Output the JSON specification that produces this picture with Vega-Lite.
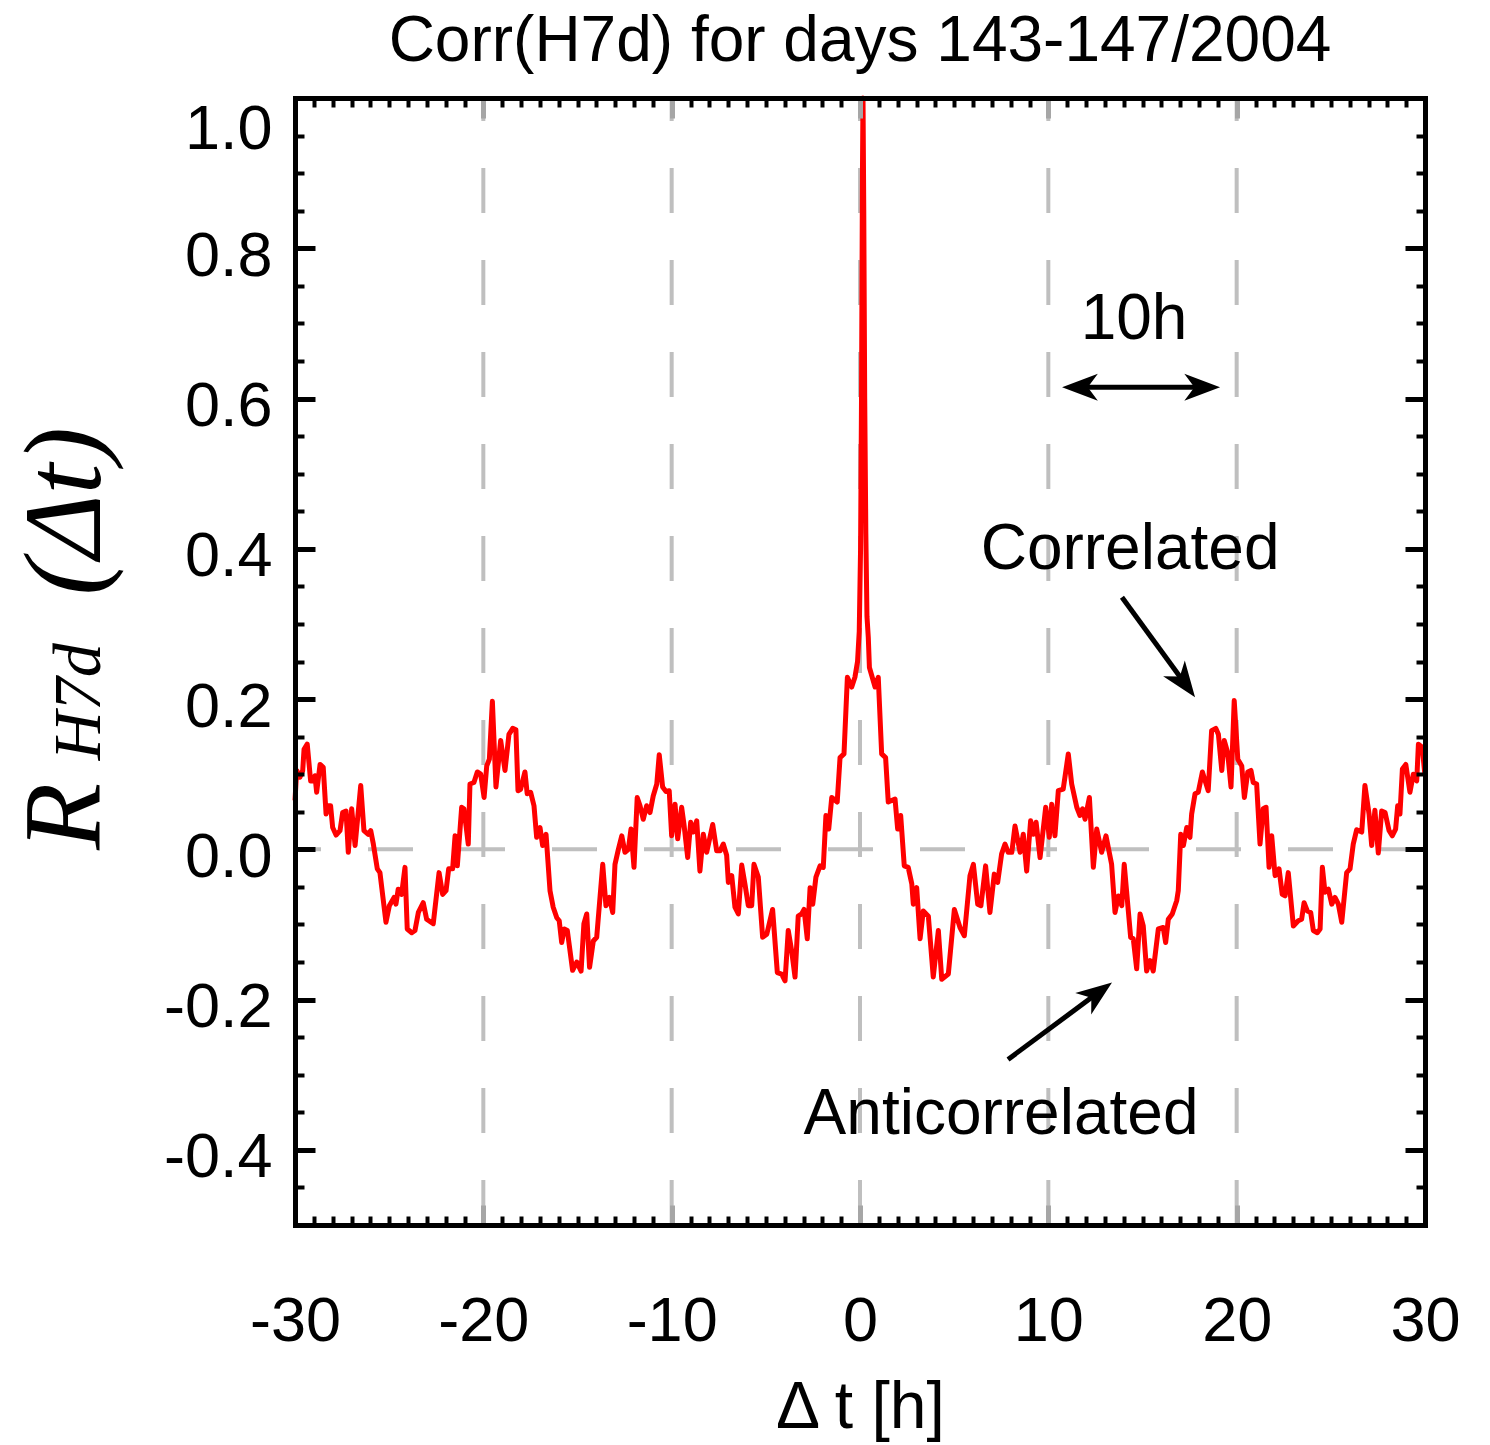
{
"$schema": "https://vega.github.io/schema/vega-lite/v6.json",
"width": 1130, "height": 1127,
"autosize": {"type": "none"},
"padding": {"left": 295, "top": 98, "right": 65, "bottom": 220},
"background": "white",
"config": {"view": {"stroke": null}},
"title": {"text": "Corr(H7d) for days 143-147/2004", "font": "Liberation Sans", "fontSize": 64, "fontWeight": "normal", "color": "black", "anchor": "middle", "offset": 22},
"datasets": {
"curve": [
{"t":-30.0,"r":0.065},{"t":-29.91,"r":0.105},{"t":-29.74,"r":0.096},{"t":-29.59,"r":0.105},{"t":-29.52,"r":0.133},{"t":-29.35,"r":0.140},{"t":-29.17,"r":0.091},{"t":-29.03,"r":0.091},{"t":-28.94,"r":0.098},{"t":-28.85,"r":0.076},{"t":-28.67,"r":0.113},{"t":-28.50,"r":0.109},{"t":-28.35,"r":0.047},{"t":-28.23,"r":0.058},{"t":-28.11,"r":0.058},{"t":-28.00,"r":0.029},{"t":-27.82,"r":0.019},{"t":-27.61,"r":0.025},{"t":-27.47,"r":0.049},{"t":-27.29,"r":0.051},{"t":-27.17,"r":-0.004},{"t":-26.99,"r":0.054},{"t":-26.81,"r":0.005},{"t":-26.51,"r":0.085},{"t":-26.34,"r":0.025},{"t":-26.11,"r":0.020},{"t":-25.98,"r":0.025},{"t":-25.84,"r":0.007},{"t":-25.63,"r":-0.026},{"t":-25.49,"r":-0.031},{"t":-25.17,"r":-0.097},{"t":-24.99,"r":-0.075},{"t":-24.74,"r":-0.064},{"t":-24.64,"r":-0.073},{"t":-24.52,"r":-0.053},{"t":-24.34,"r":-0.060},{"t":-24.16,"r":-0.024},{"t":-24.04,"r":-0.106},{"t":-23.80,"r":-0.111},{"t":-23.63,"r":-0.108},{"t":-23.45,"r":-0.084},{"t":-23.19,"r":-0.071},{"t":-23.01,"r":-0.093},{"t":-22.66,"r":-0.099},{"t":-22.35,"r":-0.031},{"t":-22.16,"r":-0.060},{"t":-21.98,"r":-0.055},{"t":-21.84,"r":-0.026},{"t":-21.63,"r":-0.026},{"t":-21.50,"r":0.018},{"t":-21.38,"r":-0.022},{"t":-21.15,"r":0.056},{"t":-21.03,"r":0.054},{"t":-20.80,"r":0.007},{"t":-20.71,"r":0.087},{"t":-20.50,"r":0.089},{"t":-20.32,"r":0.103},{"t":-20.14,"r":0.100},{"t":-19.96,"r":0.069},{"t":-19.82,"r":0.111},{"t":-19.68,"r":0.120},{"t":-19.52,"r":0.197},{"t":-19.33,"r":0.083},{"t":-19.08,"r":0.145},{"t":-18.85,"r":0.105},{"t":-18.64,"r":0.153},{"t":-18.44,"r":0.161},{"t":-18.27,"r":0.159},{"t":-18.16,"r":0.078},{"t":-18.02,"r":0.080},{"t":-17.79,"r":0.103},{"t":-17.67,"r":0.074},{"t":-17.49,"r":0.076},{"t":-17.31,"r":0.058},{"t":-17.17,"r":0.016},{"t":-16.99,"r":0.029},{"t":-16.85,"r":0.005},{"t":-16.67,"r":0.020},{"t":-16.46,"r":-0.055},{"t":-16.29,"r":-0.077},{"t":-16.10,"r":-0.091},{"t":-15.97,"r":-0.095},{"t":-15.84,"r":-0.124},{"t":-15.70,"r":-0.106},{"t":-15.54,"r":-0.108},{"t":-15.26,"r":-0.161},{"t":-15.04,"r":-0.150},{"t":-14.81,"r":-0.162},{"t":-14.66,"r":-0.099},{"t":-14.51,"r":-0.086},{"t":-14.36,"r":-0.157},{"t":-14.16,"r":-0.122},{"t":-13.98,"r":-0.117},{"t":-13.66,"r":-0.020},{"t":-13.49,"r":-0.075},{"t":-13.31,"r":-0.064},{"t":-13.13,"r":-0.084},{"t":-13.01,"r":-0.020},{"t":-12.83,"r":0.000},{"t":-12.65,"r":0.018},{"t":-12.48,"r":-0.004},{"t":-12.30,"r":0.000},{"t":-12.16,"r":0.027},{"t":-12.00,"r":-0.024},{"t":-11.83,"r":0.069},{"t":-11.68,"r":0.058},{"t":-11.51,"r":0.040},{"t":-11.33,"r":0.058},{"t":-11.15,"r":0.049},{"t":-10.98,"r":0.071},{"t":-10.79,"r":0.087},{"t":-10.66,"r":0.126},{"t":-10.48,"r":0.083},{"t":-10.30,"r":0.077},{"t":-10.13,"r":0.078},{"t":-10.00,"r":0.018},{"t":-9.82,"r":0.060},{"t":-9.68,"r":0.014},{"t":-9.47,"r":0.056},{"t":-9.35,"r":0.034},{"t":-9.15,"r":-0.011},{"t":-8.99,"r":0.036},{"t":-8.85,"r":0.023},{"t":-8.67,"r":0.038},{"t":-8.50,"r":-0.029},{"t":-8.32,"r":0.020},{"t":-8.14,"r":-0.004},{"t":-7.82,"r":0.033},{"t":-7.61,"r":-0.002},{"t":-7.43,"r":-0.002},{"t":-7.26,"r":0.007},{"t":-7.08,"r":-0.008},{"t":-6.99,"r":-0.044},{"t":-6.81,"r":-0.035},{"t":-6.64,"r":-0.077},{"t":-6.46,"r":-0.086},{"t":-6.28,"r":-0.021},{"t":-6.11,"r":-0.046},{"t":-5.93,"r":-0.075},{"t":-5.75,"r":-0.075},{"t":-5.63,"r":-0.020},{"t":-5.40,"r":-0.037},{"t":-5.17,"r":-0.117},{"t":-4.95,"r":-0.113},{"t":-4.64,"r":-0.080},{"t":-4.39,"r":-0.164},{"t":-4.16,"r":-0.166},{"t":-3.98,"r":-0.175},{"t":-3.81,"r":-0.108},{"t":-3.63,"r":-0.135},{"t":-3.45,"r":-0.170},{"t":-3.28,"r":-0.089},{"t":-3.10,"r":-0.086},{"t":-2.97,"r":-0.080},{"t":-2.80,"r":-0.119},{"t":-2.65,"r":-0.051},{"t":-2.51,"r":-0.073},{"t":-2.34,"r":-0.037},{"t":-2.12,"r":-0.022},{"t":-1.95,"r":-0.024},{"t":-1.81,"r":0.045},{"t":-1.66,"r":0.027},{"t":-1.50,"r":0.069},{"t":-1.21,"r":0.063},{"t":-1.06,"r":0.122},{"t":-0.85,"r":0.127},{"t":-0.67,"r":0.229},{"t":-0.44,"r":0.216},{"t":-0.27,"r":0.229},{"t":-0.13,"r":0.25},{"t":-0.04,"r":0.29},{"t":0.03,"r":0.40},{"t":0.08,"r":0.60},{"t":0.13,"r":0.90},{"t":0.16,"r":1.0},{"t":0.20,"r":0.85},{"t":0.25,"r":0.60},{"t":0.31,"r":0.42},{"t":0.37,"r":0.31},{"t":0.44,"r":0.282},{"t":0.50,"r":0.242},{"t":0.80,"r":0.216},{"t":0.97,"r":0.229},{"t":1.15,"r":0.127},{"t":1.36,"r":0.122},{"t":1.50,"r":0.063},{"t":1.86,"r":0.067},{"t":2.00,"r":0.027},{"t":2.16,"r":0.045},{"t":2.35,"r":-0.022},{"t":2.56,"r":-0.024},{"t":2.75,"r":-0.046},{"t":2.83,"r":-0.073},{"t":3.01,"r":-0.051},{"t":3.19,"r":-0.119},{"t":3.36,"r":-0.082},{"t":3.63,"r":-0.089},{"t":3.89,"r":-0.170},{"t":4.16,"r":-0.108},{"t":4.34,"r":-0.173},{"t":4.69,"r":-0.166},{"t":5.01,"r":-0.080},{"t":5.31,"r":-0.104},{"t":5.54,"r":-0.115},{"t":5.84,"r":-0.035},{"t":6.02,"r":-0.020},{"t":6.25,"r":-0.073},{"t":6.42,"r":-0.075},{"t":6.67,"r":-0.022},{"t":6.90,"r":-0.084},{"t":7.13,"r":-0.033},{"t":7.31,"r":-0.044},{"t":7.52,"r":-0.006},{"t":7.70,"r":0.007},{"t":7.87,"r":-0.004},{"t":8.06,"r":-0.004},{"t":8.23,"r":0.031},{"t":8.50,"r":-0.004},{"t":8.67,"r":0.020},{"t":8.85,"r":-0.029},{"t":9.06,"r":0.038},{"t":9.20,"r":0.020},{"t":9.35,"r":0.036},{"t":9.56,"r":-0.011},{"t":9.86,"r":0.056},{"t":10.05,"r":0.016},{"t":10.18,"r":0.060},{"t":10.35,"r":0.018},{"t":10.53,"r":0.078},{"t":10.79,"r":0.080},{"t":11.06,"r":0.127},{"t":11.24,"r":0.087},{"t":11.51,"r":0.056},{"t":11.68,"r":0.045},{"t":11.82,"r":0.054},{"t":11.95,"r":0.040},{"t":12.18,"r":0.069},{"t":12.39,"r":-0.024},{"t":12.57,"r":0.027},{"t":12.83,"r":-0.004},{"t":13.06,"r":0.018},{"t":13.36,"r":-0.020},{"t":13.54,"r":-0.084},{"t":13.72,"r":-0.062},{"t":13.90,"r":-0.075},{"t":14.03,"r":-0.020},{"t":14.37,"r":-0.117},{"t":14.51,"r":-0.119},{"t":14.69,"r":-0.159},{"t":14.87,"r":-0.086},{"t":15.04,"r":-0.102},{"t":15.22,"r":-0.162},{"t":15.40,"r":-0.148},{"t":15.57,"r":-0.162},{"t":15.84,"r":-0.106},{"t":16.10,"r":-0.104},{"t":16.23,"r":-0.124},{"t":16.37,"r":-0.093},{"t":16.58,"r":-0.086},{"t":16.82,"r":-0.068},{"t":16.90,"r":-0.055},{"t":17.03,"r":0.020},{"t":17.17,"r":0.005},{"t":17.35,"r":0.029},{"t":17.52,"r":0.016},{"t":17.61,"r":0.047},{"t":17.79,"r":0.074},{"t":17.96,"r":0.076},{"t":18.18,"r":0.103},{"t":18.49,"r":0.078},{"t":18.67,"r":0.158},{"t":18.89,"r":0.161},{"t":19.03,"r":0.153},{"t":19.21,"r":0.105},{"t":19.34,"r":0.145},{"t":19.52,"r":0.129},{"t":19.70,"r":0.083},{"t":19.87,"r":0.198},{"t":20.06,"r":0.120},{"t":20.27,"r":0.111},{"t":20.41,"r":0.069},{"t":20.59,"r":0.103},{"t":20.76,"r":0.105},{"t":20.88,"r":0.089},{"t":21.06,"r":0.087},{"t":21.24,"r":0.007},{"t":21.41,"r":0.054},{"t":21.56,"r":0.056},{"t":21.72,"r":-0.024},{"t":21.86,"r":0.018},{"t":22.04,"r":-0.035},{"t":22.25,"r":-0.026},{"t":22.42,"r":-0.060},{"t":22.57,"r":-0.062},{"t":22.74,"r":-0.031},{"t":23.01,"r":-0.102},{"t":23.27,"r":-0.095},{"t":23.45,"r":-0.093},{"t":23.58,"r":-0.071},{"t":23.75,"r":-0.082},{"t":23.93,"r":-0.084},{"t":24.07,"r":-0.108},{"t":24.28,"r":-0.111},{"t":24.43,"r":-0.106},{"t":24.55,"r":-0.024},{"t":24.69,"r":-0.057},{"t":24.87,"r":-0.053},{"t":25.05,"r":-0.073},{"t":25.22,"r":-0.064},{"t":25.40,"r":-0.073},{"t":25.58,"r":-0.097},{"t":25.84,"r":-0.031},{"t":26.02,"r":-0.026},{"t":26.19,"r":0.007},{"t":26.37,"r":0.026},{"t":26.64,"r":0.023},{"t":26.81,"r":0.085},{"t":27.03,"r":0.047},{"t":27.17,"r":0.005},{"t":27.34,"r":0.052},{"t":27.52,"r":-0.005},{"t":27.70,"r":0.051},{"t":27.88,"r":0.049},{"t":28.09,"r":0.025},{"t":28.26,"r":0.018},{"t":28.44,"r":0.027},{"t":28.55,"r":0.058},{"t":28.67,"r":0.047},{"t":28.80,"r":0.107},{"t":28.98,"r":0.113},{"t":29.20,"r":0.076},{"t":29.38,"r":0.100},{"t":29.56,"r":0.091},{"t":29.65,"r":0.140},{"t":29.85,"r":0.136},{"t":30.00,"r":0.098}
],
"origin": [{"t": 0, "r": 0}]
},
"resolve": {"axis": {"x": "independent", "y": "independent"}},
"layer": [
{"data": {"values": [{"t": -20}, {"t": -10}, {"t": 0}, {"t": 10}, {"t": 20}]},
 "mark": {"type": "rule", "color": "#bfbfbf", "strokeWidth": 4, "strokeDash": [45, 47], "strokeDashOffset": 22},
 "encoding": {"x": {"field": "t", "type": "quantitative", "scale": {"domain": [-30, 30], "nice": false, "zero": false}, "axis": null}}},
{"data": {"values": [{"r": 0}]},
 "mark": {"type": "rule", "color": "#bfbfbf", "strokeWidth": 4, "strokeDash": [45, 47], "strokeDashOffset": 0},
 "encoding": {"y": {"field": "r", "type": "quantitative", "scale": {"domain": [-0.5, 1.0], "nice": false, "zero": false}, "axis": null}}},
{"data": {"name": "curve"},
 "mark": {"type": "line", "color": "#ff0000", "strokeWidth": 5, "strokeJoin": "round"},
 "encoding": {
  "x": {"field": "t", "type": "quantitative", "scale": {"domain": [-30, 30], "nice": false, "zero": false},
   "axis": {"orient": "bottom", "values": [-30, -20, -10, 0, 10, 20, 30], "format": "d", "labelExpr": "replace(datum.label, '\u2212', '-')", "tickSize": -20, "tickWidth": 5, "tickColor": "#a6a6a6", "domainColor": "black", "domainWidth": 5, "domainCap": "square", "labelFont": "Liberation Sans", "labelFontSize": 63, "labelColor": "black", "labelPadding": 85, "labelFlush": false, "labelOverlap": false, "title": "Δ t [h]", "titleFont": "Liberation Sans", "titleFontSize": 66, "titleFontWeight": "normal", "titleColor": "black", "titlePadding": 22, "grid": false, "zindex": 1}},
  "y": {"field": "r", "type": "quantitative", "scale": {"domain": [-0.5, 1.0], "nice": false, "zero": false},
   "axis": {"orient": "left", "values": [-0.4, -0.2, 0, 0.2, 0.4, 0.6, 0.8, 1.0], "format": ".1f", "labelExpr": "replace(datum.label, '\u2212', '-')", "tickSize": -20, "tickWidth": 5, "tickColor": "black", "domainColor": "black", "domainWidth": 5, "domainCap": "square", "labelFont": "Liberation Sans", "labelFontSize": 63, "labelColor": "black", "labelPadding": 43, "labelOffset": 8, "labelFlush": true, "labelFlushOffset": 8, "labelOverlap": false, "title": null, "grid": false, "zindex": 1}}
 }},
{"data": {"name": "origin"},
 "mark": {"type": "point", "opacity": 0},
 "encoding": {
  "x": {"field": "t", "type": "quantitative", "scale": {"domain": [-30, 30], "nice": false, "zero": false},
   "axis": {"orient": "top", "values": [-30, -20, -10, 0, 10, 20, 30], "labels": false, "tickSize": -20, "tickWidth": 5, "tickColor": "#a6a6a6", "domainColor": "black", "domainWidth": 5, "domainCap": "square", "title": null, "grid": false, "zindex": 1}},
  "y": {"field": "r", "type": "quantitative", "scale": {"domain": [-0.5, 1.0], "nice": false, "zero": false},
   "axis": {"orient": "right", "values": [-0.4, -0.2, 0, 0.2, 0.4, 0.6, 0.8, 1.0], "labels": false, "tickSize": -20, "tickWidth": 5, "tickColor": "black", "domainColor": "black", "domainWidth": 5, "domainCap": "square", "title": null, "grid": false, "zindex": 1}}
 }},
{"data": {"name": "origin"},
 "mark": {"type": "point", "opacity": 0},
 "encoding": {
  "x": {"field": "t", "type": "quantitative", "scale": {"domain": [-30, 30], "nice": false, "zero": false},
   "axis": {"orient": "bottom", "values": [-29,-28,-27,-26,-25,-24,-23,-22,-21,-19,-18,-17,-16,-15,-14,-13,-12,-11,-9,-8,-7,-6,-5,-4,-3,-2,-1,1,2,3,4,5,6,7,8,9,11,12,13,14,15,16,17,18,19,21,22,23,24,25,26,27,28,29], "labels": false, "domain": false, "tickSize": -9, "tickWidth": 4, "tickColor": "black", "title": null, "grid": false, "zindex": 1}},
  "y": {"field": "r", "type": "quantitative", "scale": {"domain": [-0.5, 1.0], "nice": false, "zero": false},
   "axis": {"orient": "left", "values": [-0.45,-0.35,-0.3,-0.25,-0.15,-0.1,-0.05,0.05,0.1,0.15,0.25,0.3,0.35,0.45,0.5,0.55,0.65,0.7,0.75,0.85,0.9,0.95], "labels": false, "domain": false, "tickSize": -9, "tickWidth": 4, "tickColor": "black", "title": null, "grid": false, "zindex": 1}}
 }},
{"data": {"name": "origin"},
 "mark": {"type": "point", "opacity": 0},
 "encoding": {
  "x": {"field": "t", "type": "quantitative", "scale": {"domain": [-30, 30], "nice": false, "zero": false},
   "axis": {"orient": "top", "values": [-29,-28,-27,-26,-25,-24,-23,-22,-21,-19,-18,-17,-16,-15,-14,-13,-12,-11,-9,-8,-7,-6,-5,-4,-3,-2,-1,1,2,3,4,5,6,7,8,9,11,12,13,14,15,16,17,18,19,21,22,23,24,25,26,27,28,29], "labels": false, "domain": false, "tickSize": -9, "tickWidth": 4, "tickColor": "black", "title": null, "grid": false, "zindex": 1}},
  "y": {"field": "r", "type": "quantitative", "scale": {"domain": [-0.5, 1.0], "nice": false, "zero": false},
   "axis": {"orient": "right", "values": [-0.45,-0.35,-0.3,-0.25,-0.15,-0.1,-0.05,0.05,0.1,0.15,0.25,0.3,0.35,0.45,0.5,0.55,0.65,0.7,0.75,0.85,0.9,0.95], "labels": false, "domain": false, "tickSize": -9, "tickWidth": 4, "tickColor": "black", "title": null, "grid": false, "zindex": 1}}
 }},
{"data": {"values": [{"t": 14.55, "r": 0.679, "s": "10h"}, {"t": 14.34, "r": 0.373, "s": "Correlated"}, {"t": 7.49, "r": -0.3795, "s": "Anticorrelated"}]},
 "mark": {"type": "text", "font": "Liberation Sans", "fontSize": 64, "align": "center", "baseline": "alphabetic", "color": "black"},
 "encoding": {
  "x": {"field": "t", "type": "quantitative", "scale": {"domain": [-30, 30], "nice": false, "zero": false}, "axis": null},
  "y": {"field": "r", "type": "quantitative", "scale": {"domain": [-0.5, 1.0], "nice": false, "zero": false}, "axis": null},
  "text": {"field": "s"}}},
{"data": {"values": [{"t": 11.5, "r": 0.615, "t2": 18.35, "r2": 0.615}, {"t": 13.91, "r": 0.3356, "t2": 17.32, "r2": 0.2184}, {"t": 7.86, "r": -0.2796, "t2": 12.74, "r2": -0.189}]},
 "mark": {"type": "rule", "color": "black", "strokeWidth": 5},
 "encoding": {
  "x": {"field": "t", "type": "quantitative", "scale": {"domain": [-30, 30], "nice": false, "zero": false}, "axis": null},
  "x2": {"field": "t2"},
  "y": {"field": "r", "type": "quantitative", "scale": {"domain": [-0.5, 1.0], "nice": false, "zero": false}, "axis": null},
  "y2": {"field": "r2"}}},
{"data": {"values": [{"t": 10.73, "r": 0.615}]},
 "mark": {"type": "point", "shape": "M0,0L-0.6,1.6L0,1.15L0.6,1.6Z", "size": 2000, "filled": true, "opacity": 1, "color": "black", "strokeWidth": 0, "angle": 270},
 "encoding": {
  "x": {"field": "t", "type": "quantitative", "scale": {"domain": [-30, 30], "nice": false, "zero": false}, "axis": null},
  "y": {"field": "r", "type": "quantitative", "scale": {"domain": [-0.5, 1.0], "nice": false, "zero": false}, "axis": null}}},
{"data": {"values": [{"t": 19.12, "r": 0.615}]},
 "mark": {"type": "point", "shape": "M0,0L-0.6,1.6L0,1.15L0.6,1.6Z", "size": 2000, "filled": true, "opacity": 1, "color": "black", "strokeWidth": 0, "angle": 90},
 "encoding": {
  "x": {"field": "t", "type": "quantitative", "scale": {"domain": [-30, 30], "nice": false, "zero": false}, "axis": null},
  "y": {"field": "r", "type": "quantitative", "scale": {"domain": [-0.5, 1.0], "nice": false, "zero": false}, "axis": null}}},
{"data": {"values": [{"t": 17.79, "r": 0.2024}]},
 "mark": {"type": "point", "shape": "M0,0L-0.6,1.6L0,1.15L0.6,1.6Z", "size": 2000, "filled": true, "opacity": 1, "color": "black", "strokeWidth": 0, "angle": 143.9},
 "encoding": {
  "x": {"field": "t", "type": "quantitative", "scale": {"domain": [-30, 30], "nice": false, "zero": false}, "axis": null},
  "y": {"field": "r", "type": "quantitative", "scale": {"domain": [-0.5, 1.0], "nice": false, "zero": false}, "axis": null}}},
{"data": {"values": [{"t": 13.38, "r": -0.1771}]},
 "mark": {"type": "point", "shape": "M0,0L-0.6,1.6L0,1.15L0.6,1.6Z", "size": 2000, "filled": true, "opacity": 1, "color": "black", "strokeWidth": 0, "angle": 53.5},
 "encoding": {
  "x": {"field": "t", "type": "quantitative", "scale": {"domain": [-30, 30], "nice": false, "zero": false}, "axis": null},
  "y": {"field": "r", "type": "quantitative", "scale": {"domain": [-0.5, 1.0], "nice": false, "zero": false}, "axis": null}}},
{"data": {"values": [{"t": -40.35, "r": -0.001, "s": "R"}, {"t": -40.35, "r": 0.338, "s": "(Δt)"}]},
 "mark": {"type": "text", "font": "Liberation Serif", "fontStyle": "italic", "fontSize": 110, "angle": 270, "align": "left", "baseline": "alphabetic", "color": "black"},
 "encoding": {
  "x": {"field": "t", "type": "quantitative", "scale": {"domain": [-30, 30], "nice": false, "zero": false}, "axis": null},
  "y": {"field": "r", "type": "quantitative", "scale": {"domain": [-0.5, 1.0], "nice": false, "zero": false}, "axis": null},
  "text": {"field": "s"}}},
{"data": {"values": [{"t": -40.35, "r": 0.1185, "s": "H7d"}]},
 "mark": {"type": "text", "font": "Liberation Serif", "fontStyle": "italic", "fontSize": 68, "angle": 270, "align": "left", "baseline": "alphabetic", "color": "black"},
 "encoding": {
  "x": {"field": "t", "type": "quantitative", "scale": {"domain": [-30, 30], "nice": false, "zero": false}, "axis": null},
  "y": {"field": "r", "type": "quantitative", "scale": {"domain": [-0.5, 1.0], "nice": false, "zero": false}, "axis": null},
  "text": {"field": "s"}}}
]
}
